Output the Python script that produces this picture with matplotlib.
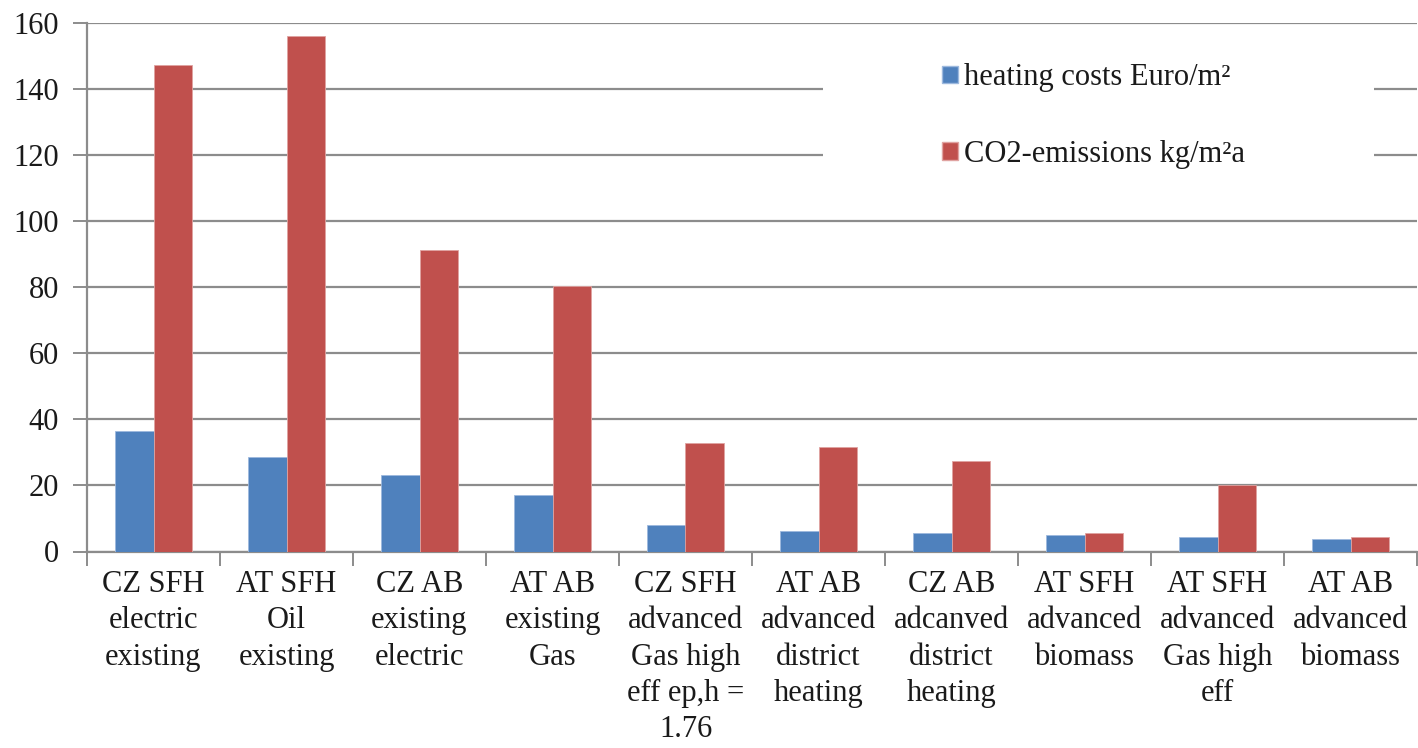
import numpy as np
import matplotlib
matplotlib.use("Agg")
import matplotlib.pyplot as plt
from matplotlib.patches import Patch, Rectangle

categories = [
    "CZ SFH\nelectric\nexisting",
    "AT SFH\nOil\nexisting",
    "CZ AB\nexisting\nelectric",
    "AT AB\nexisting\nGas",
    "CZ SFH\nadvanced\nGas high\neff ep,h =\n1.76",
    "AT AB\nadvanced\ndistrict\nheating",
    "CZ AB\nadcanved\ndistrict\nheating",
    "AT SFH\nadvanced\nbiomass",
    "AT SFH\nadvanced\nGas high\neff",
    "AT AB\nadvanced\nbiomass",
]
heating_costs = [36.5, 28.7, 23.2, 17.2, 8.1, 6.2, 5.6, 5.0, 4.4, 3.8]
co2_emissions = [147.0, 156.0, 91.3, 80.2, 32.9, 31.7, 27.5, 5.6, 20.2, 4.4]
series_names = ["heating costs Euro/m\u00b2", "CO2-emissions kg/m\u00b2a"]
yticks = [0, 20, 40, 60, 80, 100, 120, 140, 160]

BLUE = "#4F81BD"
RED = "#C0504D"
GRID = "#8C8C8C"

plt.rcParams["font.family"] = ["Liberation Serif", "DejaVu Serif"]

W, H, DPI = 1418, 748, 100
fig = plt.figure(figsize=(W / DPI, H / DPI), dpi=DPI)
ax = fig.add_axes([87 / W, 1 - 551.5 / H, (1417 - 87) / W, (551.5 - 22.5) / H])

x = np.arange(len(categories))
bw = 0.29
ax.bar(x - bw / 2, heating_costs, width=bw, color=BLUE, edgecolor="#9DB9DE",
       linewidth=0.6, zorder=3)
ax.bar(x + bw / 2, co2_emissions, width=bw, color=RED, edgecolor="#E0A3A1",
       linewidth=0.6, zorder=3)

ax.set_xlim(-0.5, len(categories) - 0.5)
ax.set_ylim(0, 160)
ax.set_yticks(yticks)
ax.set_yticklabels([str(v) for v in yticks], fontsize=22, color="#1a1a1a")
ax.yaxis.grid(True, color=GRID, linewidth=1.6, zorder=0)
ax.set_axisbelow(True)

# category boundaries carry the tick marks, labels sit at the centres
ax.set_xticks(np.arange(-0.5, len(categories), 1.0))
ax.set_xticklabels([])
ax.set_xticks(x, minor=True)
ax.set_xticklabels(categories, minor=True, fontsize=22, color="#1a1a1a",
                   linespacing=1.34, va="top")
ax.tick_params(axis="x", which="major", length=10, width=1.4, color=GRID,
               direction="out")
ax.tick_params(axis="x", which="minor", length=0, pad=13)
ax.tick_params(axis="y", length=10, width=1.4, color=GRID, pad=10)

for side in ("top", "right"):
    ax.spines[side].set_visible(False)
for side in ("left", "bottom"):
    ax.spines[side].set_color(GRID)
    ax.spines[side].set_linewidth(1.6)

# white panel behind the legend
ax.add_patch(Rectangle((823 / W, 1 - 210 / H), (1374 - 823) / W, (210 - 30) / H,
                       transform=fig.transFigure, facecolor="white",
                       edgecolor="none", zorder=4))
handles = [Patch(facecolor=BLUE, edgecolor="#9DB9DE"),
           Patch(facecolor=RED, edgecolor="#E0A3A1")]
leg = fig.legend(handles, series_names, loc="upper left",
                 bbox_to_anchor=(918 / W, 1 - 39 / H), frameon=False,
                 fontsize=22, handlelength=0.5, handleheight=0.5,
                 handletextpad=0.2, labelspacing=1.55, borderpad=0.3)
for t in leg.get_texts():
    t.set_color("#1a1a1a")

fig.savefig("out.png", dpi=DPI, facecolor="white")
